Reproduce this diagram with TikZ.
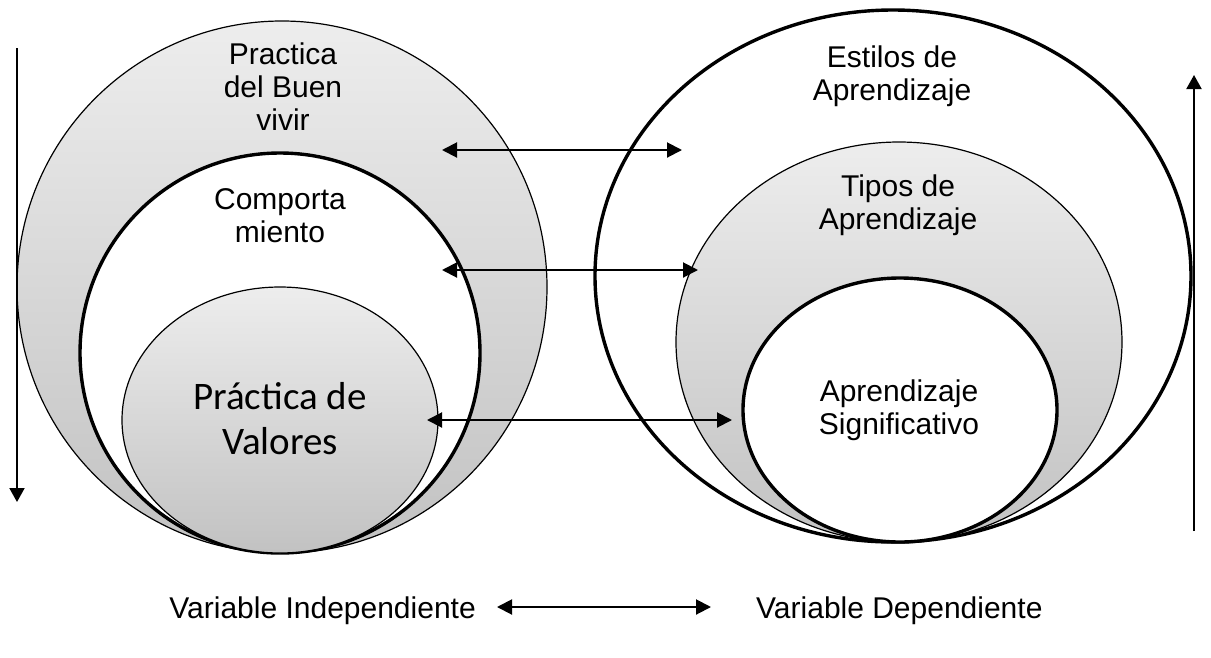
\documentclass[tikz,border=0pt]{standalone}
\usepackage{fontspec}
\setmainfont{Liberation Sans}
\newfontfamily\calib{Carlito}
\usetikzlibrary{shapes.geometric,arrows.meta}
\begin{document}
\begin{tikzpicture}[x=1pt,y=-1pt,
  ring/.style={ellipse, inner sep=0pt, outer sep=0pt, draw=black},
  thinring/.style={ring, line width=1.2pt, top color=black!7, bottom color=black!24},
  thickring/.style={ring, line width=3.4pt, fill=white},
  lbl/.style={align=center, inner sep=0pt, font=\fontsize{30}{33}\selectfont},
  rel/.style={line width=2pt, {Triangle[length=15pt,width=15pt]}-{Triangle[length=15pt,width=15pt]}},
  dirarrow/.style={line width=2pt, -{Triangle[length=14pt,width=15pt]}}
]
\useasboundingbox (0,0) rectangle (1211,657);

% left group
\node[thinring, minimum width=530pt, minimum height=532pt] (LO) at (282,287) {};
\node[thickring, minimum width=400pt, minimum height=400pt] (LM) at (280,353) {};
\node[thinring, minimum width=316pt, minimum height=266pt] (LI) at (280,420) {};

% right group
\node[thickring, minimum width=596pt, minimum height=532pt] (RO) at (893,276) {};
\node[thinring, minimum width=446pt, minimum height=400pt] (RM) at (899,342) {};
\node[thickring, minimum width=314pt, minimum height=264pt] (RI) at (900,410) {};

% labels
\node[lbl] (tLO) at (283,86.3) {Practica\\del Buen\\vivir};
\node[lbl] (tLM) at (280,215.5) {Comporta\\miento};
\node[lbl, font=\calib\fontsize{39}{45}\selectfont] (tLI) at (280,418.5) {Práctica de\\Valores};
\node[lbl] (tRO) at (892,76.7) {Estilos de\\Aprendizaje};
\node[lbl] (tRM) at (898,205.7) {Tipos de\\Aprendizaje};
\node[lbl] (tRI) at (899,410.7) {Aprendizaje\\Significativo};

% relation arrows
\coordinate (a1l) at (442,150); \coordinate (a1r) at (682,150);
\coordinate (a2l) at (442,270); \coordinate (a2r) at (698,270);
\coordinate (a3l) at (427,420); \coordinate (a3r) at (732,420);
\draw[rel] (a1l) -- (a1r);
\draw[rel] (a2l) -- (a2r);
\draw[rel] (a3l) -- (a3r);

% vertical arrows
\coordinate (dTop) at (17,48); \coordinate (dBot) at (17,502);
\draw[dirarrow] (dTop) -- (dBot);
\coordinate (uBot) at (1194,531); \coordinate (uTop) at (1194,75);
\draw[dirarrow] (uBot) -- (uTop);

% bottom legend
\node[lbl, anchor=base east] (vi) at (476,618) {Variable Independiente};
\node[lbl, anchor=base west] (vd) at (756,618) {Variable Dependiente};
\coordinate (bl) at (497,607); \coordinate (br) at (711,607);
\draw[rel] (bl) -- (br);
\end{tikzpicture}
\end{document}
